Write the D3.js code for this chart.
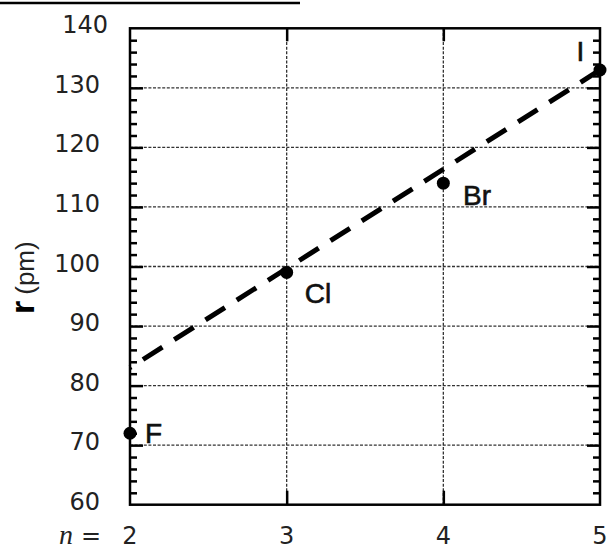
<!DOCTYPE html>
<html><head><meta charset="utf-8">
<script src="https://cdn.jsdelivr.net/npm/d3@7"></script>
<style>body{margin:0;background:#fff;overflow:hidden}</style>
</head><body><svg id="c" width="607" height="550"></svg>
<script>
const elements = ["F", "Cl", "Br", "I"];
const nValues = [2, 3, 4, 5];
const radii = [72, 99, 114, 133];
const fitN = [5, 2];
const fitR = [133, 83];
const xTickValues = [2, 3, 4, 5];
const yTickValues = [60, 70, 80, 90, 100, 110, 120, 130, 140];
const yAxisTitle = "r";
const yAxisUnit = "(pm)";
const xPrefix = "n";

const svg = d3.select("#c");
const L = 130, R = 600, T = 28.3, B = 504.7;
const x = d3.scaleLinear().domain([2, 5]).range([L, R]);
const y = d3.scaleLinear().domain([60, 140]).range([B, T]);

// cropped title underline at very top
svg.append("line").attr("x1", 0).attr("x2", 300).attr("y1", 3).attr("y2", 3)
  .attr("stroke", "#000").attr("stroke-width", 2.5);

// grid
const g = svg.append("g");
g.selectAll(".hg").data(yTickValues.slice(1, -1)).join("line")
  .attr("x1", L).attr("x2", R).attr("y1", d => y(d)).attr("y2", d => y(d))
  .attr("stroke", "#333").attr("stroke-width", 1.3).attr("stroke-dasharray", "3,1.6");
g.selectAll(".vg").data(xTickValues.slice(1, -1)).join("line")
  .attr("x1", d => x(d)).attr("x2", d => x(d)).attr("y1", T).attr("y2", B)
  .attr("stroke", "#333").attr("stroke-width", 1.3).attr("stroke-dasharray", "3,1.6");

// inward ticks via d3 axes
const minor = d3.range(62, 140, 2).filter(v => v % 10 !== 0);
function yAxisInward(side, vals, len) {
  const ax = (side === "left" ? d3.axisRight(y) : d3.axisLeft(y))
    .tickValues(vals).tickSize(len).tickFormat("");
  const a = svg.append("g").attr("transform", `translate(${side === "left" ? L : R},0)`).call(ax);
  a.select(".domain").remove();
  a.selectAll("line").attr("stroke", "#000").attr("stroke-width", 2.5);
}
yAxisInward("left", yTickValues.slice(1, -1), 13);
yAxisInward("left", minor, 7);
yAxisInward("right", yTickValues.slice(1, -1), 13);
yAxisInward("right", minor, 7);
function xAxisInward(side, vals, len) {
  const ax = (side === "bottom" ? d3.axisTop(x) : d3.axisBottom(x))
    .tickValues(vals).tickSize(len).tickFormat("");
  const a = svg.append("g").attr("transform", `translate(0,${side === "bottom" ? B : T})`).call(ax);
  a.select(".domain").remove();
  a.selectAll("line").attr("stroke", "#000").attr("stroke-width", 2.5);
}
xAxisInward("bottom", xTickValues.slice(1, -1), 14);
xAxisInward("top", xTickValues.slice(1, -1), 13);

// frame
svg.append("rect").attr("x", L).attr("y", T).attr("width", R - L).attr("height", B - T)
  .attr("fill", "none").attr("stroke", "#000").attr("stroke-width", 2.5);

// tick labels
svg.append("g").selectAll("text").data(yTickValues).join("text")
  .attr("x", d => d === 140 ? 108 : 100).attr("y", d => y(d) + 5)
  .attr("text-anchor", "end").attr("font-family", "DejaVu Sans").attr("font-size", 24)
  .attr("fill", "#222").text(d => d);
svg.append("g").selectAll("text").data(xTickValues).join("text")
  .attr("x", d => x(d)).attr("y", 544)
  .attr("text-anchor", "middle").attr("font-family", "DejaVu Sans").attr("font-size", 24)
  .attr("fill", "#222").text(d => d);
svg.append("text").attr("x", 59).attr("y", 544)
  .attr("font-family", "Liberation Serif").attr("font-style", "italic").attr("font-size", 28)
  .attr("fill", "#222").text(xPrefix);
svg.append("text").attr("x", 81).attr("y", 544)
  .attr("font-family", "DejaVu Sans").attr("font-size", 24)
  .attr("fill", "#222").text("=");

// y axis title
const yt = svg.append("text").attr("transform", "translate(34,314) rotate(-90)")
  .attr("font-family", "Liberation Sans").attr("fill", "#000");
yt.append("tspan").attr("font-weight", "bold").attr("font-size", 34).text(yAxisTitle);
yt.append("tspan").attr("font-size", 26).attr("fill", "#222").attr("dx", 6).text(yAxisUnit);

// dashed trend line
svg.append("path")
  .datum(fitN.map((n, i) => [n, fitR[i]]))
  .attr("d", d3.line().x(d => x(d[0])).y(d => y(d[1])))
  .attr("fill", "none").attr("stroke", "#000").attr("stroke-width", 5)
  .attr("stroke-dasharray", "23,14");

// points
const pts = nValues.map((n, i) => ({ n, r: radii[i], el: elements[i] }));
svg.append("g").selectAll("circle").data(pts).join("circle")
  .attr("cx", d => x(d.n)).attr("cy", d => y(d.r)).attr("r", 6.5).attr("fill", "#000");

// labels
const off = { F: [15, 10], Cl: [18, 30.5], Br: [19.7, 22], I: [-23.5, -9.4] };
svg.append("g").selectAll("text").data(pts).join("text")
  .attr("x", d => x(d.n) + off[d.el][0]).attr("y", d => y(d.r) + off[d.el][1])
  .attr("font-family", "Liberation Sans").attr("font-size", 28)
  .attr("fill", "#111").attr("stroke", "#111").attr("stroke-width", 0.6)
  .text(d => d.el);
</script></body></html>
